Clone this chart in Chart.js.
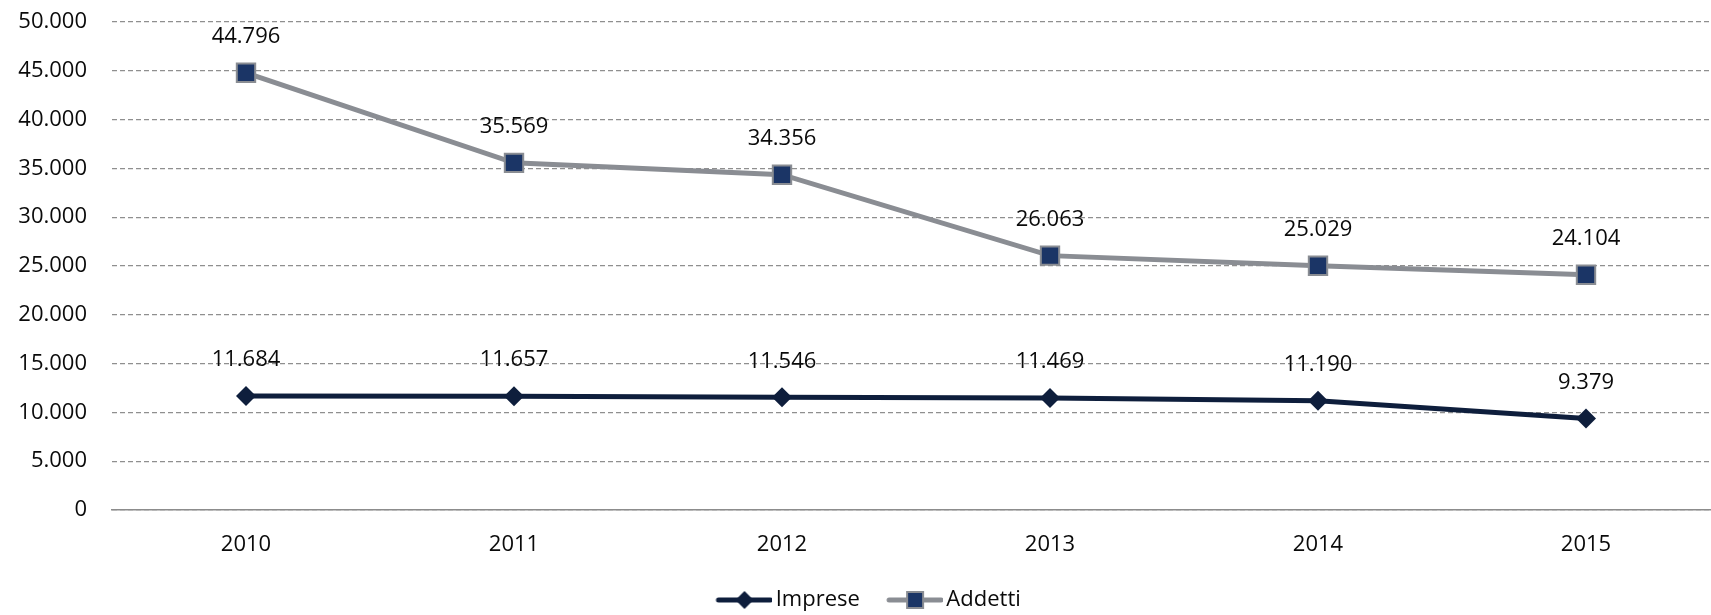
<!DOCTYPE html>
<html>
<head>
<meta charset="utf-8">
<script src="https://cdn.jsdelivr.net/npm/chart.js@4.4.1/dist/chart.umd.min.js"></script>
<style>
  html, body { margin: 0; padding: 0; background: #fff; overflow: hidden; }
  #wrap { width: 1720px; height: 615px; position: relative; }
</style>
</head>
<body>
<div id="wrap"><canvas id="chart"></canvas></div>
<script>
const years = ['2010', '2011', '2012', '2013', '2014', '2015'];
const imprese = [11684, 11657, 11546, 11469, 11190, 9379];
const addetti = [44796, 35569, 34356, 26063, 25029, 24104];
const yTicks = [0, 5000, 10000, 15000, 20000, 25000, 30000, 35000, 40000, 45000, 50000];

const FONT = '"Open Sans", Lato, sans-serif';
const navy = '#0e1e3c';
const gray = '#8a8d93';
const squareFill = '#1b3566';

const fmt = v => v.toLocaleString('de-DE');

// legend icon: line with a marker, drawn at the right end of a wider canvas
function legendIcon(kind) {
  const c = document.createElement('canvas');
  c.width = 81;
  c.height = 24;
  const ctx = c.getContext('2d');
  const x0 = 25, x1 = 81, cy = 12, cx = (x0 + x1) / 2;
  ctx.lineWidth = 5;
  ctx.strokeStyle = kind === 'diamond' ? navy : gray;
  ctx.lineCap = 'round';
  ctx.beginPath();
  ctx.moveTo(x0 + 2, cy);
  ctx.lineTo(x1 - 2, cy);
  ctx.stroke();
  if (kind === 'diamond') {
    ctx.fillStyle = navy;
    ctx.beginPath();
    ctx.moveTo(cx, cy - 9);
    ctx.lineTo(cx + 9, cy);
    ctx.lineTo(cx, cy + 9);
    ctx.lineTo(cx - 9, cy);
    ctx.closePath();
    ctx.fill();
  } else {
    ctx.fillStyle = squareFill;
    ctx.strokeStyle = gray;
    ctx.lineWidth = 2;
    ctx.fillRect(cx - 8, cy - 8, 16, 16);
    ctx.strokeRect(cx - 8, cy - 8, 16, 16);
  }
  return c;
}
const legendIcons = [legendIcon('diamond'), legendIcon('square')];

// value labels above each point
const pointLabels = {
  id: 'pointLabels',
  afterDatasetsDraw(chart) {
    const ctx = chart.ctx;
    ctx.save();
    ctx.font = `22px ${FONT}`;
    ctx.fillStyle = '#0a0a0a';
    ctx.textAlign = 'center';
    ctx.textBaseline = 'middle';
    chart.data.datasets.forEach((ds, i) => {
      const meta = chart.getDatasetMeta(i);
      meta.data.forEach((pt, j) => {
        ctx.fillText(fmt(ds.data[j]), pt.x, pt.y - 36);
      });
    });
    ctx.restore();
  }
};

new Chart(document.getElementById('chart'), {
  type: 'line',
  data: {
    labels: years,
    datasets: [
      {
        label: 'Imprese',
        data: imprese,
        borderColor: navy,
        backgroundColor: navy,
        borderWidth: 5,
        pointStyle: 'rectRot',
        pointRadius: 10,
        pointBorderWidth: 0,
        pointBackgroundColor: navy,
        tension: 0
      },
      {
        label: 'Addetti',
        data: addetti,
        borderColor: gray,
        backgroundColor: squareFill,
        borderWidth: 5,
        pointStyle: 'rect',
        pointRadius: 13,
        pointBorderWidth: 2,
        pointBorderColor: gray,
        pointBackgroundColor: squareFill,
        tension: 0
      }
    ]
  },
  options: {
    responsive: true,
    maintainAspectRatio: false,
    animation: false,
    layout: { autoPadding: false, padding: { top: 22, right: 0, bottom: -6, left: 0 } },
    plugins: {
      tooltip: { enabled: false },
      legend: {
        position: 'bottom',
        labels: {
          usePointStyle: true,
          pointStyleWidth: 65.5,
          padding: 10,
          color: '#0a0a0a',
          font: { family: FONT, size: 22 },
          generateLabels(chart) {
            const items = Chart.defaults.plugins.legend.labels.generateLabels(chart);
            items.forEach((it, i) => { it.pointStyle = legendIcons[i]; });
            return items;
          }
        }
      }
    },
    scales: {
      x: {
        offset: true,
        grid: { display: false, drawTicks: false },
        border: { display: true, color: '#8c8c8c', width: 1.5 },
        ticks: { padding: 22, color: '#0a0a0a', font: { family: FONT, size: 22 } },
        afterFit(scale) { scale.height = 69; }
      },
      y: {
        min: 0,
        max: 50000,
        afterBuildTicks(scale) { scale.ticks = yTicks.map(v => ({ value: v })); },
        grid: { color: '#8f8f8f', lineWidth: 1.3, drawTicks: true, tickLength: 25, tickColor: 'rgba(0,0,0,0)' },
        border: { display: false, dash: [5, 3] },
        ticks: { padding: 0, color: '#0a0a0a', font: { family: FONT, size: 22 }, callback: v => fmt(v) },
        afterFit(scale) { scale.width = 112; }
      }
    }
  },
  plugins: [pointLabels]
});
</script>
</body>
</html>
